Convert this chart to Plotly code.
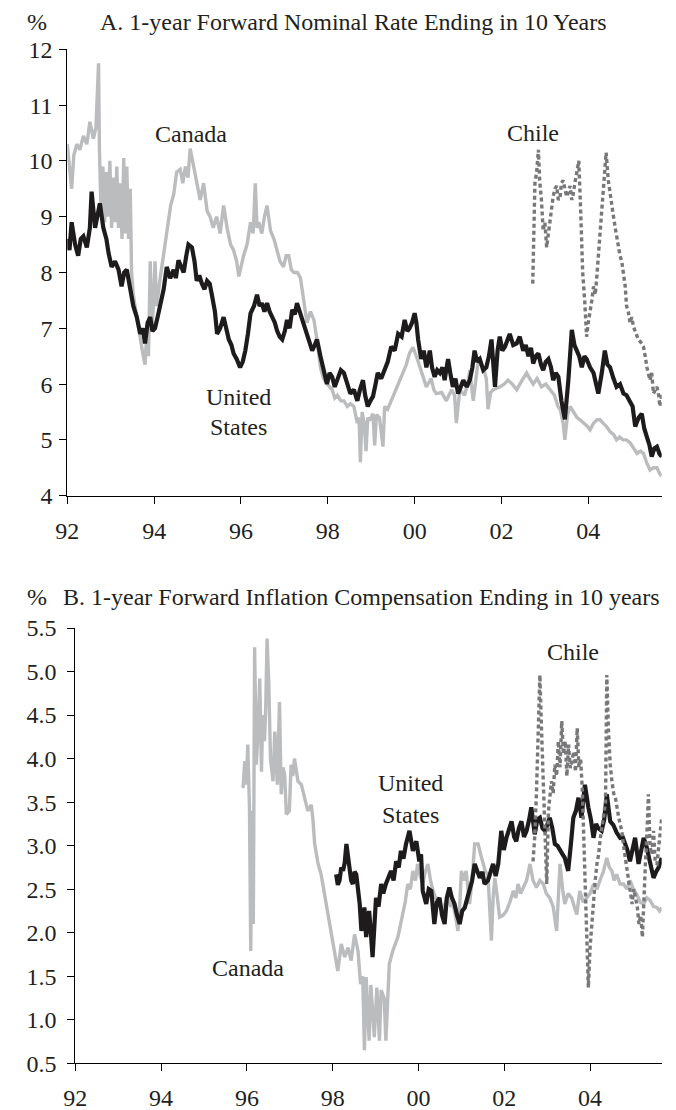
import plotly.graph_objects as go

# ---------------- Panel A: 1-year forward nominal rate ending in 10 years ----------------
canA_x = [1992.00, 1992.05, 1992.10, 1992.15, 1992.22, 1992.29, 1992.37, 1992.45, 1992.52, 1992.60,
          1992.66, 1992.72, 1992.74, 1992.78, 1992.82, 1992.86, 1992.90, 1992.94, 1992.98, 1993.02,
          1993.06, 1993.10, 1993.14, 1993.18, 1993.22, 1993.26, 1993.30, 1993.33, 1993.37, 1993.41,
          1993.45, 1993.48, 1993.52, 1993.58, 1993.64, 1993.70, 1993.75, 1993.79, 1993.83, 1993.87,
          1993.91, 1993.95, 1993.99, 1994.02, 1994.06, 1994.14, 1994.22, 1994.30, 1994.38, 1994.45,
          1994.52, 1994.60, 1994.66, 1994.72, 1994.78, 1994.83, 1994.91, 1994.98, 1995.06, 1995.14,
          1995.22, 1995.29, 1995.36, 1995.44, 1995.52, 1995.60, 1995.68, 1995.76, 1995.83, 1995.90,
          1995.95, 1996.06, 1996.14, 1996.22, 1996.28, 1996.33, 1996.37, 1996.41, 1996.48, 1996.54,
          1996.60, 1996.68, 1996.76, 1996.83, 1996.90, 1996.98, 1997.04, 1997.10, 1997.16, 1997.22,
          1997.30, 1997.37, 1997.45, 1997.52, 1997.60, 1997.68, 1997.75, 1997.83, 1997.90, 1997.98,
          1998.04, 1998.10, 1998.16, 1998.22, 1998.30, 1998.37, 1998.45, 1998.52, 1998.60, 1998.68,
          1998.72, 1998.75, 1998.79, 1998.84, 1998.88, 1998.92, 1998.96, 1999.04, 1999.08, 1999.12,
          1999.19, 1999.27, 1999.31, 1999.38, 1999.50, 1999.62, 1999.73, 1999.81, 1999.88, 1999.96,
          2000.04, 2000.12, 2000.20, 2000.27, 2000.38, 2000.44, 2000.50, 2000.62, 2000.73, 2000.85,
          2000.92, 2000.96, 2001.04, 2001.15, 2001.22, 2001.27, 2001.35, 2001.46, 2001.58, 2001.65,
          2001.69, 2001.75, 2001.81, 2001.96, 2002.06, 2002.15, 2002.25, 2002.35, 2002.46, 2002.58,
          2002.65, 2002.73, 2002.82, 2002.92, 2003.02, 2003.12, 2003.22, 2003.30, 2003.35, 2003.42,
          2003.46, 2003.52, 2003.58, 2003.66, 2003.74, 2003.81, 2003.90, 2003.97, 2004.04, 2004.12,
          2004.20, 2004.27, 2004.34, 2004.42, 2004.50, 2004.58, 2004.65, 2004.72, 2004.80, 2004.88,
          2004.96, 2005.04, 2005.12, 2005.20, 2005.27, 2005.34, 2005.42, 2005.50, 2005.58, 2005.64,
          2005.69]
canA_y = [10.3, 9.9, 9.5, 10.1, 10.3, 10.2, 10.45, 10.3, 10.7, 10.4,
          10.6, 11.75, 10.2, 9.0, 9.9, 8.9, 9.8, 9.0, 10.0, 8.8,
          9.7, 8.9, 9.9, 8.8, 9.6, 8.6, 10.05, 8.7, 9.9, 8.6,
          9.5, 8.0, 7.6, 7.3, 7.0, 6.7, 6.5, 6.35, 6.9, 6.5,
          8.2, 7.0, 7.5, 8.2, 7.4, 7.9, 8.3, 8.7, 9.2, 9.4,
          9.8, 9.85, 9.6, 9.9, 9.7, 10.22, 9.9, 9.6, 9.3, 9.6,
          9.1, 9.0, 8.8, 9.0, 8.7, 9.2, 8.8, 8.5, 8.4, 8.2,
          7.93, 8.3, 8.5, 8.9, 8.7, 9.6, 8.8, 8.9, 8.7, 9.0,
          9.2, 8.75, 8.6, 8.4, 8.2, 8.1, 8.3, 8.3, 8.05, 8.0,
          8.0, 7.9, 7.5, 7.1, 7.3, 7.15, 6.8, 6.3, 6.1, 6.0,
          5.95, 5.9, 5.75, 5.8, 5.7, 5.7, 5.6, 5.65, 5.6, 5.3,
          5.4, 4.6, 5.5, 5.3, 4.8, 5.4, 5.35, 5.47, 4.9, 5.45,
          5.4, 4.88, 5.6, 5.55, 5.78, 6.0, 6.2, 6.35, 6.55, 6.66,
          6.5, 6.3, 6.1, 5.95, 6.1, 5.9, 5.83, 5.85, 5.7, 5.9,
          5.8, 5.3, 5.9, 5.8, 6.0, 6.25, 5.7, 6.4, 6.3, 6.1,
          5.55, 5.85, 5.9, 5.95, 6.0, 6.07, 6.0, 5.9, 6.05, 6.2,
          6.1, 6.0, 6.1, 5.95, 6.0, 5.9, 5.8, 5.6, 5.55, 5.3,
          5.0, 5.45, 5.6, 5.5, 5.4, 5.36, 5.3, 5.25, 5.18, 5.3,
          5.36, 5.36, 5.3, 5.24, 5.15, 5.1, 5.0, 5.05, 5.0, 5.0,
          4.95, 4.85, 4.76, 4.8, 4.76, 4.6, 4.46, 4.5, 4.5, 4.4,
          4.35]

usA_x = [1992.00, 1992.05, 1992.10, 1992.18, 1992.25, 1992.31, 1992.37, 1992.45, 1992.52, 1992.56,
         1992.64, 1992.70, 1992.75, 1992.83, 1992.90, 1992.95, 1993.02, 1993.10, 1993.18, 1993.25,
         1993.31, 1993.37, 1993.45, 1993.52, 1993.60, 1993.68, 1993.74, 1993.79, 1993.85, 1993.91,
         1993.96, 1994.02, 1994.08, 1994.14, 1994.22, 1994.29, 1994.37, 1994.45, 1994.50, 1994.56,
         1994.62, 1994.68, 1994.74, 1994.79, 1994.87, 1994.93, 1994.98, 1995.04, 1995.10, 1995.16,
         1995.22, 1995.28, 1995.33, 1995.40, 1995.45, 1995.52, 1995.60, 1995.66, 1995.72, 1995.78,
         1995.83, 1995.90, 1995.98, 1996.04, 1996.10, 1996.16, 1996.22, 1996.30, 1996.37, 1996.43,
         1996.48, 1996.54, 1996.60, 1996.66, 1996.72, 1996.78, 1996.83, 1996.89, 1996.95, 1997.01,
         1997.06, 1997.12, 1997.18, 1997.24, 1997.29, 1997.35, 1997.41, 1997.47, 1997.52, 1997.58,
         1997.64, 1997.70, 1997.75, 1997.83, 1997.90, 1997.98, 1998.04, 1998.10, 1998.16, 1998.22,
         1998.30, 1998.37, 1998.45, 1998.52, 1998.60, 1998.68, 1998.74, 1998.81, 1998.86, 1998.92,
         1998.98, 1999.04, 1999.10, 1999.15, 1999.23, 1999.31, 1999.38, 1999.46, 1999.54, 1999.62,
         1999.70, 1999.77, 1999.83, 1999.88, 1999.94, 2000.00, 2000.04, 2000.08, 2000.15, 2000.21,
         2000.27, 2000.35, 2000.40, 2000.46, 2000.52, 2000.58, 2000.64, 2000.69, 2000.77, 2000.82,
         2000.88, 2000.94, 2001.00, 2001.06, 2001.12, 2001.20, 2001.27, 2001.33, 2001.38, 2001.44,
         2001.50, 2001.58, 2001.65, 2001.71, 2001.77, 2001.85, 2001.91, 2001.96, 2002.02, 2002.08,
         2002.14, 2002.19, 2002.27, 2002.35, 2002.42, 2002.50, 2002.56, 2002.62, 2002.68, 2002.73,
         2002.79, 2002.85, 2002.91, 2002.96, 2003.02, 2003.08, 2003.14, 2003.19, 2003.25, 2003.31,
         2003.38, 2003.46, 2003.54, 2003.62, 2003.68, 2003.73, 2003.79, 2003.85, 2003.91, 2003.96,
         2004.04, 2004.12, 2004.18, 2004.23, 2004.31, 2004.38, 2004.44, 2004.50, 2004.58, 2004.65,
         2004.73, 2004.81, 2004.88, 2004.96, 2005.02, 2005.08, 2005.16, 2005.23, 2005.29, 2005.35,
         2005.41, 2005.46, 2005.52, 2005.58, 2005.64, 2005.69]
usA_y = [8.6, 8.4, 8.9, 8.5, 8.3, 8.6, 8.65, 8.45, 8.8, 9.45,
         8.8, 9.0, 9.24, 8.8, 8.6, 8.35, 8.1, 8.2, 8.05, 7.75,
         8.0, 8.05, 7.7, 7.4, 7.2, 6.9, 7.0, 6.73, 7.1, 7.2,
         6.95, 7.0, 7.2, 7.45, 7.7, 8.1, 7.9, 8.05, 7.9, 8.22,
         8.1, 8.0, 8.3, 8.5, 8.45, 8.2, 7.85, 7.95, 7.8, 7.7,
         7.85, 7.8, 7.6, 7.3, 6.9, 7.0, 7.2, 7.0, 6.8, 6.7,
         6.55, 6.45, 6.3, 6.4, 6.6, 6.9, 7.27, 7.4, 7.6, 7.4,
         7.45, 7.3, 7.45, 7.3, 7.2, 7.1, 6.96, 6.85, 6.8, 6.95,
         7.15, 7.0, 7.33, 7.25, 7.45, 7.3, 7.2, 7.0, 6.9, 6.75,
         6.6, 6.7, 6.8, 6.5, 6.25, 6.0, 6.2, 6.13, 5.95, 6.07,
         6.25, 6.2, 6.0, 5.83, 5.9, 5.7, 5.9, 6.07, 5.8, 5.6,
         5.7, 5.78, 6.0, 6.2, 6.1, 6.25, 6.4, 6.67, 6.6, 6.9,
         6.85, 7.15, 6.95, 7.0, 7.1, 7.27, 7.1, 6.8, 6.45, 6.6,
         6.3, 6.6, 6.3, 6.13, 6.25, 6.2, 6.3, 6.07, 6.45, 6.2,
         5.95, 6.1, 5.83, 5.95, 6.07, 5.95, 6.07, 6.3, 6.6, 6.4,
         6.45, 6.25, 6.3, 6.5, 6.8, 5.95, 6.6, 6.85, 6.6, 6.67,
         6.8, 6.9, 6.7, 6.73, 6.85, 6.6, 6.7, 6.5, 6.65, 6.37,
         6.5, 6.55, 6.35, 6.25, 6.4, 6.45, 6.3, 6.07, 6.2, 6.13,
         5.7, 5.37, 6.07, 6.97, 6.7, 6.6, 6.5, 6.3, 6.5, 6.45,
         6.3, 6.2, 6.0, 5.83, 6.2, 6.6, 6.35, 6.3, 6.1, 5.95,
         6.0, 5.83, 5.8, 5.7, 5.6, 5.24, 5.4, 5.47, 5.2, 5.05,
         4.9, 4.7, 4.85, 4.88, 4.75, 4.7]

chlA_x = [2002.72, 2002.73, 2002.77, 2002.81, 2002.85, 2002.88, 2002.92, 2002.96, 2003.00, 2003.04,
          2003.08, 2003.12, 2003.16, 2003.19, 2003.23, 2003.27, 2003.31, 2003.35, 2003.38, 2003.42,
          2003.46, 2003.50, 2003.54, 2003.58, 2003.62, 2003.65, 2003.69, 2003.73, 2003.78, 2003.82,
          2003.87, 2003.92, 2003.96, 2004.00, 2004.04, 2004.08, 2004.12, 2004.16, 2004.19, 2004.23,
          2004.27, 2004.31, 2004.35, 2004.41, 2004.46, 2004.50, 2004.54, 2004.58, 2004.62, 2004.66,
          2004.69, 2004.73, 2004.77, 2004.81, 2004.85, 2004.88, 2004.92, 2004.96, 2005.00, 2005.04,
          2005.10, 2005.15, 2005.21, 2005.27, 2005.31, 2005.35, 2005.42, 2005.46, 2005.50, 2005.54,
          2005.58, 2005.62, 2005.65, 2005.69]
chlA_y = [7.8, 8.35, 9.6, 9.8, 10.2, 9.65, 9.3, 8.75, 8.9, 8.45,
          8.7, 9.0, 9.2, 9.36, 9.5, 9.55, 9.3, 9.36, 9.6, 9.65,
          9.5, 9.36, 9.45, 9.55, 9.3, 9.4, 9.6, 9.78, 10.0, 9.18,
          8.0, 7.45, 6.85, 7.1, 7.27, 7.5, 7.75, 7.6, 7.87, 8.3,
          8.6, 9.0, 9.4, 10.15, 9.65, 9.4, 9.18, 9.0, 8.8, 8.6,
          8.45, 8.3, 8.2, 8.0, 7.75, 7.4, 7.3, 7.1, 7.2, 7.03,
          6.9, 6.8, 6.75, 6.67, 6.5, 6.3, 6.07, 6.2, 5.83, 5.9,
          5.95, 5.8, 5.6, 5.83]

# ---------------- Panel B: 1-year forward inflation compensation ending in 10 years ----------------
canB_x = [1995.91, 1995.95, 1995.99, 1996.02, 1996.06, 1996.09, 1996.12, 1996.15, 1996.18, 1996.22,
          1996.26, 1996.30, 1996.34, 1996.37, 1996.41, 1996.44, 1996.47, 1996.51, 1996.55, 1996.61,
          1996.65, 1996.71, 1996.76, 1996.80, 1996.84, 1996.88, 1996.92, 1996.99, 1997.03, 1997.07,
          1997.11, 1997.15, 1997.19, 1997.27, 1997.35, 1997.42, 1997.50, 1997.54, 1997.58, 1997.66,
          1997.73, 1997.81, 1997.89, 1997.97, 1998.05, 1998.12, 1998.20, 1998.28, 1998.36, 1998.43,
          1998.51, 1998.59, 1998.65, 1998.70, 1998.74, 1998.78, 1998.85, 1998.89, 1998.97, 1999.03,
          1999.09, 1999.13, 1999.20, 1999.24, 1999.32, 1999.40, 1999.52, 1999.63, 1999.69, 1999.75,
          1999.81, 1999.87, 1999.93, 1999.98, 2000.04, 2000.10, 2000.16, 2000.22, 2000.28, 2000.34,
          2000.40, 2000.45, 2000.51, 2000.57, 2000.63, 2000.69, 2000.75, 2000.80, 2000.86, 2000.92,
          2000.96, 2001.00, 2001.06, 2001.11, 2001.19, 2001.25, 2001.31, 2001.39, 2001.45, 2001.50,
          2001.56, 2001.62, 2001.70, 2001.74, 2001.78, 2001.84, 2001.89, 2001.97, 2002.05, 2002.13,
          2002.21, 2002.27, 2002.32, 2002.38, 2002.44, 2002.52, 2002.60, 2002.67, 2002.75, 2002.83,
          2002.91, 2002.98, 2003.06, 2003.14, 2003.22, 2003.30, 2003.36, 2003.41, 2003.49, 2003.57,
          2003.63, 2003.69, 2003.76, 2003.84, 2003.92, 2004.00, 2004.08, 2004.16, 2004.23, 2004.31,
          2004.39, 2004.45, 2004.51, 2004.56, 2004.62, 2004.70, 2004.78, 2004.86, 2004.93, 2005.01,
          2005.09, 2005.17, 2005.25, 2005.32, 2005.40, 2005.48, 2005.56, 2005.62, 2005.67]
canB_y = [3.66, 3.97, 3.7, 4.16, 3.44, 1.79, 3.4, 2.1, 5.28, 3.93,
          4.31, 4.92, 3.85, 4.5, 4.2, 4.6, 5.38, 4.88, 4.0, 3.74,
          4.31, 3.7, 4.65, 3.59, 3.9, 3.82, 3.36, 3.4, 3.93, 3.8,
          4.0, 3.85, 3.74, 3.7, 3.55, 3.4, 3.47, 3.3, 3.02, 2.79,
          2.67, 2.44, 2.18, 1.95, 1.72, 1.56, 1.87, 1.72, 1.83, 1.68,
          1.98, 1.79, 1.41, 1.5, 0.65, 1.49, 0.76, 1.4, 0.8, 1.37,
          0.76, 1.34, 1.25, 0.76, 1.64, 1.79, 1.95, 2.21, 2.35, 2.56,
          2.5, 2.71, 2.6, 2.79, 2.65, 2.56, 2.7, 2.79, 2.6, 2.48,
          2.4, 2.37, 2.3, 2.25, 2.35, 2.4, 2.3, 2.33, 2.2, 2.02,
          2.3, 2.71, 2.6, 2.71, 2.33, 2.6, 3.02, 3.02, 2.9, 2.79,
          2.7, 2.67, 1.91, 2.4, 2.63, 2.4, 2.18, 2.2, 2.25, 2.35,
          2.48, 2.4, 2.56, 2.45, 2.52, 2.6, 2.79, 2.6, 2.52, 2.6,
          2.56, 2.45, 2.4, 2.3, 2.02, 2.79, 2.5, 2.33, 2.45, 2.4,
          2.3, 2.21, 2.48, 2.35, 2.4, 2.45, 2.56, 2.5, 2.6, 2.7,
          2.86, 2.75, 2.71, 2.6, 2.67, 2.56, 2.56, 2.5, 2.6, 2.5,
          2.44, 2.35, 2.33, 2.4, 2.37, 2.3, 2.29, 2.25, 2.29]

usB_x = [1998.08, 1998.12, 1998.16, 1998.20, 1998.24, 1998.28, 1998.32, 1998.36, 1998.39, 1998.43,
         1998.47, 1998.51, 1998.55, 1998.59, 1998.63, 1998.67, 1998.70, 1998.74, 1998.78, 1998.85,
         1998.89, 1998.93, 1999.01, 1999.07, 1999.13, 1999.18, 1999.24, 1999.30, 1999.36, 1999.42,
         1999.48, 1999.54, 1999.59, 1999.65, 1999.71, 1999.79, 1999.87, 1999.95, 2000.02, 2000.06,
         2000.10, 2000.18, 2000.24, 2000.30, 2000.37, 2000.43, 2000.49, 2000.55, 2000.61, 2000.66,
         2000.72, 2000.78, 2000.84, 2000.90, 2000.96, 2001.02, 2001.08, 2001.14, 2001.19, 2001.25,
         2001.31, 2001.37, 2001.43, 2001.49, 2001.54, 2001.62, 2001.68, 2001.74, 2001.80, 2001.86,
         2001.93, 2001.99, 2002.05, 2002.11, 2002.17, 2002.23, 2002.28, 2002.34, 2002.40, 2002.46,
         2002.52, 2002.58, 2002.63, 2002.71, 2002.77, 2002.83, 2002.89, 2002.95, 2003.01, 2003.06,
         2003.12, 2003.18, 2003.24, 2003.30, 2003.36, 2003.41, 2003.49, 2003.55, 2003.61, 2003.67,
         2003.73, 2003.80, 2003.88, 2003.96, 2004.02, 2004.08, 2004.14, 2004.19, 2004.27, 2004.33,
         2004.39, 2004.47, 2004.54, 2004.62, 2004.70, 2004.76, 2004.82, 2004.87, 2004.93, 2004.99,
         2005.05, 2005.13, 2005.19, 2005.25, 2005.31, 2005.36, 2005.42, 2005.48, 2005.54, 2005.60,
         2005.67]
usB_y = [2.67, 2.55, 2.6, 2.75, 2.71, 2.8, 3.02, 2.85, 2.79, 2.6,
         2.56, 2.7, 2.67, 2.5, 2.33, 2.02, 2.14, 2.29, 1.95, 2.25,
         2.0, 1.72, 2.4, 2.3, 2.56, 2.45, 2.56, 2.65, 2.71, 2.6,
         2.82, 2.75, 2.94, 2.85, 3.02, 3.17, 2.94, 3.05, 2.82, 2.9,
         2.48, 2.33, 2.5, 2.48, 2.1, 2.35, 2.4, 2.2, 2.1, 2.4,
         2.52, 2.4, 2.33, 2.2, 2.1, 2.25, 2.29, 2.4, 2.48, 2.6,
         2.79, 2.7, 2.63, 2.7, 2.56, 2.6, 2.7, 2.79, 2.65, 2.79,
         3.17, 2.95, 3.09, 3.2, 3.28, 3.1, 3.05, 3.2, 3.28, 3.1,
         3.17, 3.3, 3.44, 3.13, 3.3, 3.32, 3.2, 3.17, 3.25, 3.32,
         3.2, 3.02, 3.0, 2.94, 2.9, 2.86, 2.71, 3.0, 3.32, 3.4,
         3.55, 3.32, 3.7, 3.44, 3.3, 3.09, 3.25, 3.2, 3.17, 3.3,
         3.59, 3.28, 3.24, 3.15, 3.09, 3.1, 3.02, 2.95, 2.82, 2.95,
         3.09, 2.79, 2.95, 3.09, 3.0, 2.9, 2.8, 2.63, 2.7, 2.75,
         2.86]

chlB_x = [2002.67, 2002.71, 2002.75, 2002.79, 2002.83, 2002.87, 2002.91, 2002.95, 2002.99, 2003.03,
          2003.10, 2003.14, 2003.18, 2003.22, 2003.26, 2003.30, 2003.34, 2003.38, 2003.42, 2003.46,
          2003.50, 2003.54, 2003.58, 2003.62, 2003.66, 2003.70, 2003.74, 2003.78, 2003.82, 2003.86,
          2003.90, 2003.93, 2003.96, 2004.00, 2004.04, 2004.08, 2004.12, 2004.16, 2004.20, 2004.24,
          2004.28, 2004.32, 2004.36, 2004.39, 2004.43, 2004.47, 2004.51, 2004.55, 2004.59, 2004.63,
          2004.67, 2004.70, 2004.74, 2004.78, 2004.82, 2004.86, 2004.90, 2004.94, 2004.98, 2005.02,
          2005.06, 2005.10, 2005.14, 2005.18, 2005.22, 2005.25, 2005.29, 2005.33, 2005.36, 2005.40,
          2005.44, 2005.48, 2005.52, 2005.56, 2005.60, 2005.64, 2005.67]
chlB_y = [2.82, 3.1, 3.6, 4.5, 4.96, 4.31, 3.74, 3.17, 2.56, 3.4,
          3.74, 3.6, 3.93, 3.8, 4.2, 3.9, 4.43, 4.05, 4.2, 3.8,
          4.16, 3.89, 4.0, 4.08, 3.85, 4.35, 3.9, 4.0, 3.63, 2.98,
          2.4, 2.02, 1.37, 1.83, 2.1, 2.4, 2.6, 2.79, 2.9, 3.09,
          3.2, 3.36, 3.5, 4.96, 4.31, 3.93, 3.74, 3.6, 3.55, 3.4,
          3.32, 3.25, 3.17, 3.0, 2.86, 2.7, 2.56, 2.45, 2.33, 2.5,
          2.4, 2.3, 2.1, 2.2, 1.95, 2.4, 2.79, 3.2, 3.59, 2.98,
          2.9, 3.17, 2.8, 2.79, 3.0, 3.24, 3.32]

year_ticks = [1992, 1994, 1996, 1998, 2000, 2002, 2004]
year_labels = ["92", "94", "96", "98", "00", "02", "04"]
ticksA = [4, 5, 6, 7, 8, 9, 10, 11, 12]
ticksB = [0.5, 1.0, 1.5, 2.0, 2.5, 3.0, 3.5, 4.0, 4.5, 5.0, 5.5]

# The page body has an 8 px margin, so the figure is drawn 8 px in from the corner.
OFF = 8
W, H = 676 - OFF, 1110 - OFF
FONT = "Liberation Serif"
FS = 24
TXT = "#231f20"
GRAY = "#bbbcbe"
BLACK = "#1e1b1c"
DGRAY = "#78787b"

def px(x):
    return (x - OFF) / W

def py(y):
    return 1 - (y - OFF) / H

fig = go.Figure()

# Panel A
fig.add_trace(go.Scatter(x=canA_x, y=canA_y, mode="lines", line=dict(color=GRAY, width=3.4),
                         xaxis="x", yaxis="y", showlegend=False))
fig.add_trace(go.Scatter(x=usA_x, y=usA_y, mode="lines", line=dict(color=BLACK, width=4.2),
                         xaxis="x", yaxis="y", showlegend=False))
fig.add_trace(go.Scatter(x=chlA_x, y=chlA_y, mode="lines",
                         line=dict(color=DGRAY, width=3.4, dash="4px,3px"),
                         xaxis="x", yaxis="y", showlegend=False))
# Panel B
fig.add_trace(go.Scatter(x=canB_x, y=canB_y, mode="lines", line=dict(color=GRAY, width=3.4),
                         xaxis="x2", yaxis="y2", showlegend=False))
fig.add_trace(go.Scatter(x=usB_x, y=usB_y, mode="lines", line=dict(color=BLACK, width=4.2),
                         xaxis="x2", yaxis="y2", showlegend=False))
fig.add_trace(go.Scatter(x=chlB_x, y=chlB_y, mode="lines",
                         line=dict(color=DGRAY, width=3.4, dash="4px,3px"),
                         xaxis="x2", yaxis="y2", showlegend=False))

axis_common = dict(showline=True, linecolor="black", linewidth=1, ticks="outside",
                   ticklen=7, tickcolor="black", tickwidth=1, showgrid=False, zeroline=False,
                   automargin=False,
                   tickfont=dict(family=FONT, size=FS, color=TXT))

fig.update_layout(
    template="none",
    width=W, height=H, margin=dict(l=0, r=0, t=0, b=0, pad=0),
    paper_bgcolor="white", plot_bgcolor="white",
    font=dict(family=FONT, size=FS, color=TXT),
    xaxis=dict(domain=[px(67.3), px(661.7)], range=[1992, 2005.69], anchor="y",
               tickvals=year_ticks, ticktext=year_labels, ticklabelstandoff=6, **axis_common),
    yaxis=dict(domain=[py(495.7), py(49.3)], range=[4, 12], anchor="x",
               tickvals=ticksA, ticklabelstandoff=2, **axis_common),
    xaxis2=dict(domain=[px(75.3), px(661.7)], range=[1992, 2005.67], anchor="y2",
                tickvals=year_ticks, ticktext=year_labels, ticklabelstandoff=6, **axis_common),
    yaxis2=dict(domain=[py(1063.3), py(628)], range=[0.5, 5.5], anchor="x2",
                tickvals=ticksB, tickformat=".1f", ticklabelstandoff=6, **axis_common),
)

def label(text, x, y, xanchor="center"):
    fig.add_annotation(text=text, x=px(x), y=py(y), xref="paper", yref="paper",
                       xanchor=xanchor, yanchor="middle", showarrow=False, borderpad=0,
                       font=dict(family=FONT, size=FS, color=TXT))

# titles
label("%", 26, 22, "left")
label("A. 1-year Forward Nominal Rate Ending in 10 Years", 99, 22, "left")
label("%", 26, 597, "left")
label("B. 1-year Forward Inflation Compensation Ending in 10 years", 62, 597, "left")

# series labels, panel A
label("Canada", 191, 134)
label("Chile", 533, 133)
label("United", 239, 397)
label("States", 239, 427)
# series labels, panel B
label("Chile", 573, 652)
label("United", 410, 783)
label("States", 410, 815)
label("Canada", 248, 968)

fig.write_html("out.html")
